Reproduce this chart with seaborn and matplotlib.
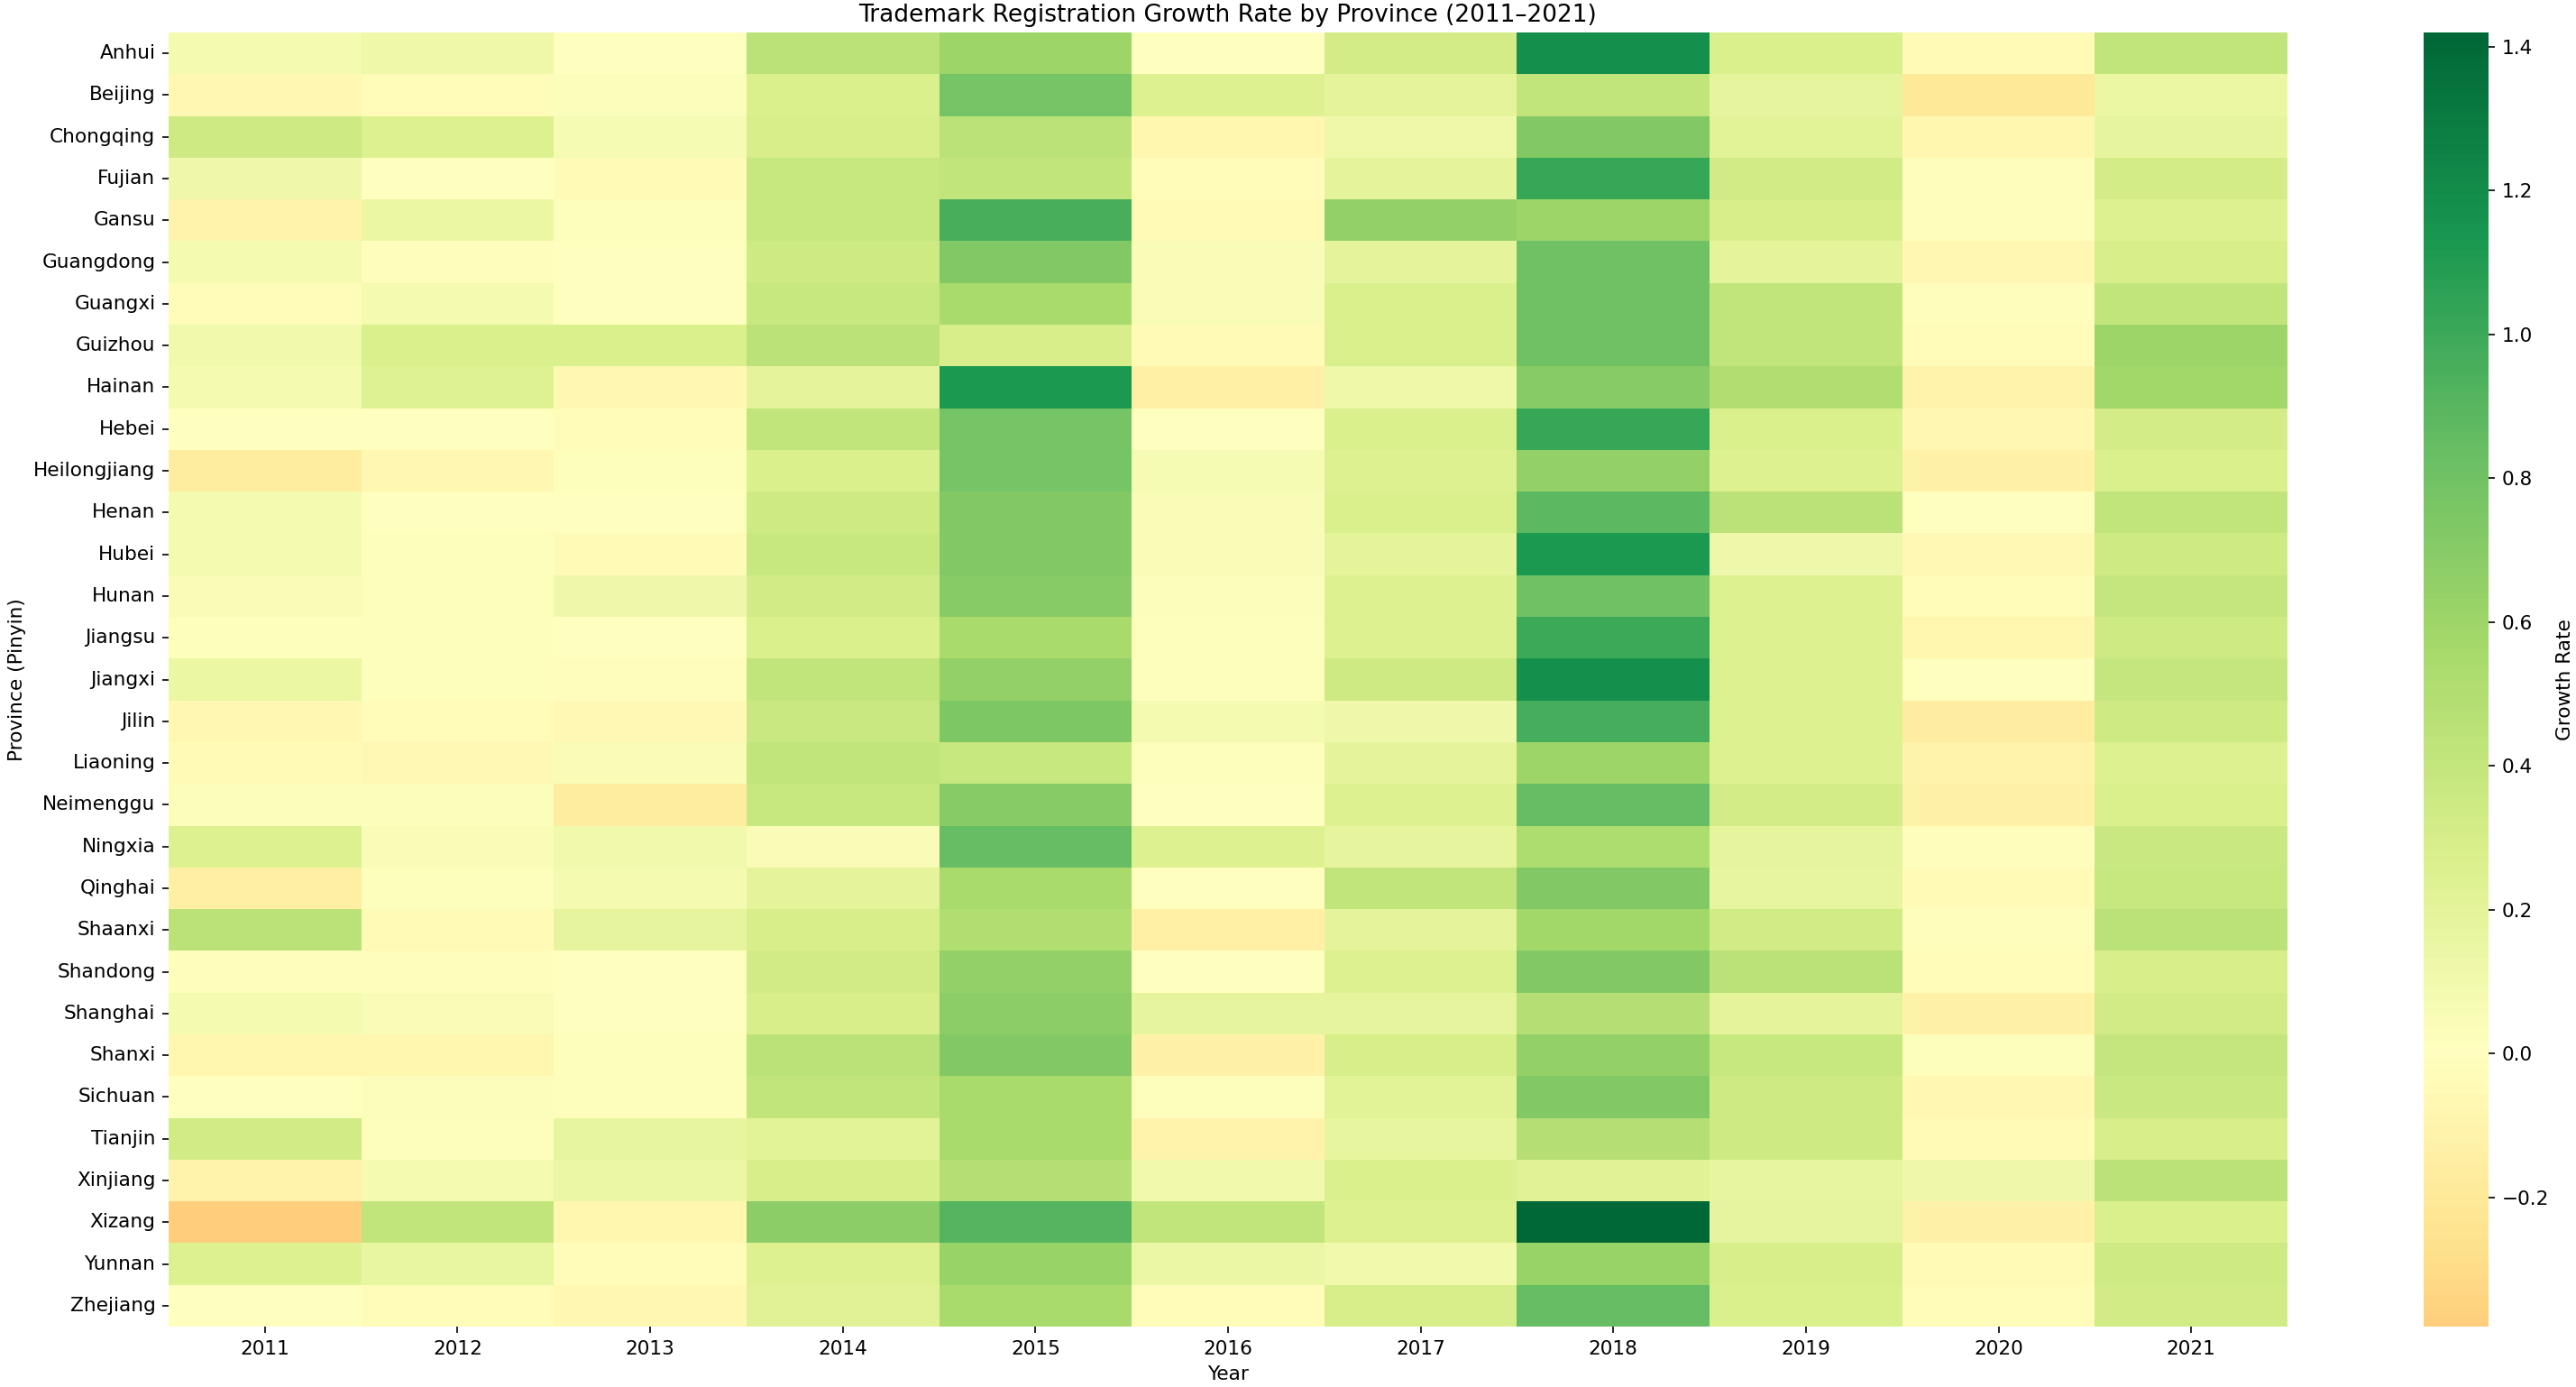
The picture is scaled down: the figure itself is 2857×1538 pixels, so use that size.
import numpy as np
import pandas as pd
import seaborn as sns
import matplotlib
matplotlib.use("Agg")
import matplotlib.pyplot as plt

# Provinces (rows) and years (columns)
provinces = ["Anhui", "Beijing", "Chongqing", "Fujian", "Gansu", "Guangdong", "Guangxi",
             "Guizhou", "Hainan", "Hebei", "Heilongjiang", "Henan", "Hubei", "Hunan",
             "Jiangsu", "Jiangxi", "Jilin", "Liaoning", "Neimenggu", "Ningxia", "Qinghai",
             "Shaanxi", "Shandong", "Shanghai", "Shanxi", "Sichuan", "Tianjin", "Xinjiang",
             "Xizang", "Yunnan", "Zhejiang"]
years = [2011, 2012, 2013, 2014, 2015, 2016, 2017, 2018, 2019, 2020, 2021]

# Growth rate per year, one value per province (same order as above)
g2011 = [0.08, -0.07, 0.35, 0.12, -0.10, 0.08, -0.03, 0.10, 0.08, 0.00, -0.17, 0.08, 0.08, 0.05, 0.02, 0.15,
         -0.07, -0.05, 0.03, 0.25, -0.15, 0.45, -0.01, 0.08, -0.08, 0.00, 0.33, -0.10, -0.38, 0.25, 0.01]
g2012 = [0.13, -0.04, 0.25, 0.00, 0.15, -0.02, 0.08, 0.27, 0.24, 0.00, -0.07, 0.01, 0.02, 0.02, 0.02, 0.02,
         -0.03, -0.06, 0.03, 0.05, 0.02, -0.05, -0.01, 0.05, -0.08, 0.03, 0.02, 0.08, 0.42, 0.16, -0.04]
g2013 = [0.00, 0.03, 0.07, -0.05, 0.02, 0.00, 0.00, 0.28, -0.07, -0.04, 0.02, 0.00, -0.05, 0.12, 0.00, -0.02,
         -0.06, 0.05, -0.17, 0.10, 0.08, 0.18, 0.00, 0.00, 0.02, 0.02, 0.17, 0.14, -0.08, -0.04, -0.07]
g2014 = [0.45, 0.28, 0.30, 0.38, 0.38, 0.35, 0.38, 0.45, 0.20, 0.42, 0.28, 0.35, 0.38, 0.33, 0.28, 0.42,
         0.37, 0.42, 0.38, 0.05, 0.20, 0.30, 0.33, 0.30, 0.45, 0.42, 0.22, 0.30, 0.68, 0.25, 0.23]
g2015 = [0.60, 0.78, 0.45, 0.42, 0.95, 0.72, 0.55, 0.30, 1.12, 0.78, 0.78, 0.72, 0.72, 0.70, 0.55, 0.65,
         0.75, 0.38, 0.70, 0.85, 0.55, 0.50, 0.65, 0.68, 0.72, 0.55, 0.55, 0.48, 0.92, 0.62, 0.55]
g2016 = [0.00, 0.25, -0.08, -0.03, -0.05, 0.05, 0.05, -0.05, -0.14, 0.00, 0.07, 0.05, 0.05, 0.03, 0.02, 0.02,
         0.08, 0.02, 0.01, 0.25, 0.01, -0.14, 0.01, 0.18, -0.12, 0.02, -0.10, 0.10, 0.42, 0.14, -0.04]
g2017 = [0.32, 0.20, 0.13, 0.20, 0.65, 0.20, 0.27, 0.28, 0.13, 0.28, 0.25, 0.28, 0.20, 0.25, 0.25, 0.35,
         0.12, 0.20, 0.25, 0.18, 0.42, 0.20, 0.25, 0.18, 0.30, 0.22, 0.17, 0.27, 0.25, 0.10, 0.30]
g2018 = [1.18, 0.42, 0.72, 1.02, 0.60, 0.80, 0.80, 0.80, 0.70, 1.02, 0.65, 0.88, 1.12, 0.80, 1.00, 1.18,
         0.97, 0.60, 0.85, 0.52, 0.72, 0.58, 0.72, 0.48, 0.65, 0.72, 0.48, 0.23, 1.42, 0.62, 0.85]
g2019 = [0.28, 0.18, 0.22, 0.33, 0.30, 0.20, 0.42, 0.42, 0.50, 0.27, 0.25, 0.45, 0.12, 0.25, 0.25, 0.25,
         0.25, 0.25, 0.32, 0.18, 0.17, 0.33, 0.45, 0.20, 0.38, 0.35, 0.35, 0.17, 0.18, 0.30, 0.28]
g2020 = [-0.05, -0.20, -0.08, -0.02, -0.02, -0.07, -0.02, -0.04, -0.10, -0.07, -0.13, 0.01, -0.06, -0.03, -0.08, 0.01,
         -0.16, -0.10, -0.12, -0.02, -0.05, -0.02, -0.04, -0.12, 0.02, -0.07, -0.05, 0.12, -0.12, -0.05, -0.03]
g2021 = [0.42, 0.15, 0.18, 0.32, 0.25, 0.30, 0.42, 0.60, 0.58, 0.32, 0.27, 0.42, 0.35, 0.40, 0.35, 0.40,
         0.35, 0.25, 0.27, 0.37, 0.38, 0.45, 0.30, 0.33, 0.40, 0.37, 0.30, 0.45, 0.27, 0.35, 0.33]

# Build the province x year table
df = pd.DataFrame({2011: g2011, 2012: g2012, 2013: g2013, 2014: g2014, 2015: g2015, 2016: g2016,
                   2017: g2017, 2018: g2018, 2019: g2019, 2020: g2020, 2021: g2021},
                  index=provinces)[years]
df.index.name = "Province (Pinyin)"
df.columns.name = "Year"

plt.rcParams["font.size"] = 10.4

# Figure sized to the target image
fig = plt.figure(figsize=(2857 / 150, 1538 / 150), dpi=150)
ax = fig.add_axes([187 / 2857, 67 / 1538, 2350 / 2857, 1435 / 1538])
cax = fig.add_axes([2688 / 2857, 67 / 1538, 72 / 2857, 1435 / 1538])

sns.heatmap(df, cmap="RdYlGn", center=0, ax=ax, cbar_ax=cax,
            cbar_kws={"label": "Growth Rate"})

ax.set_title("Trademark Registration Growth Rate by Province (2011–2021)", fontsize=12.7)
ax.set_xlabel("Year")
ax.set_ylabel("Province (Pinyin)")
ax.tick_params(axis="y", rotation=0)
ax.tick_params(axis="x", rotation=0)

plt.savefig("out.png", dpi=150)
